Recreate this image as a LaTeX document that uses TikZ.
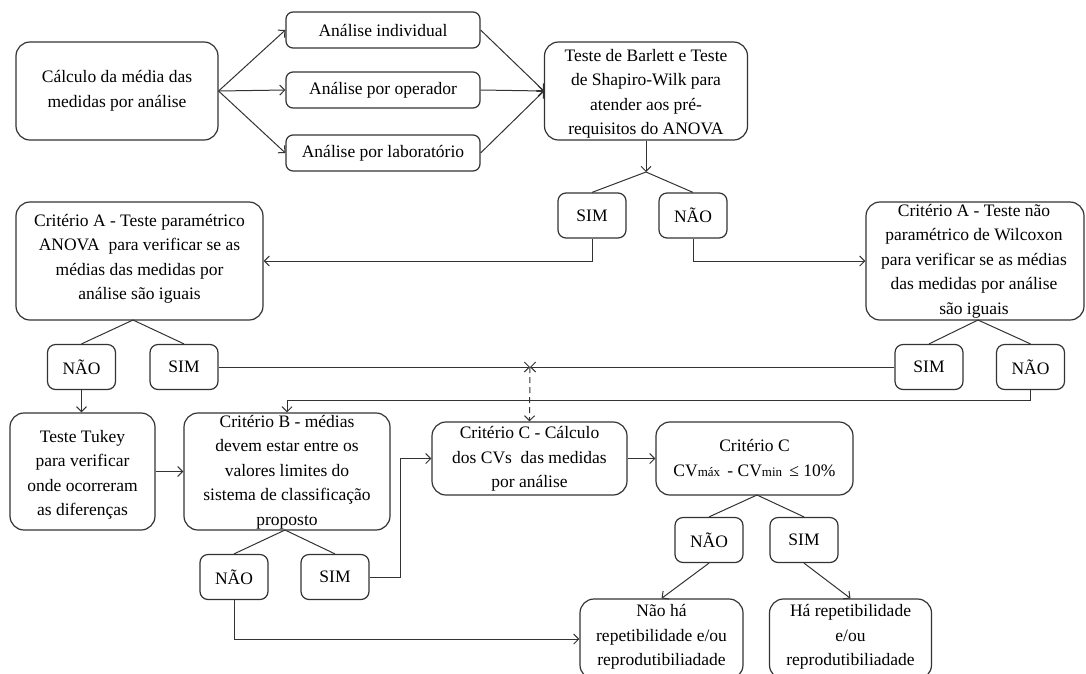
\documentclass[tikz,border=0pt]{standalone}
\usepackage{fontspec}
\setmainfont{Liberation Serif}
\usetikzlibrary{arrows.meta}
\begin{document}
\begin{tikzpicture}[x=1pt,y=-1pt,
 ln/.style={draw=black!80, line width=1pt},
 arr/.style={ln, -{Straight Barb[length=5pt,width=10pt]}},
 box/.style={draw=black!80, line width=1.2pt, rounded corners=14pt, inner sep=0pt},
 sbox/.style={draw=black!80, line width=1.2pt, rounded corners=8pt, minimum width=68pt, minimum height=45pt, inner sep=0pt, font=\fontsize{17.5}{24.5}\selectfont},
 txt/.style={align=center, inner sep=0pt, font=\fontsize{17.5}{24.5}\selectfont}]
\useasboundingbox (0,0) rectangle (1086,673);
\clip (0,0) rectangle (1086,673);

% row 1
\node[box, minimum width=202pt, minimum height=98pt] (calc) at (117,91) {};
\node[txt] (calct) at (calc) {Cálculo da média das\\medidas por análise};
\node[box, rounded corners=7pt, minimum width=194pt, minimum height=36pt] (ind) at (383,30) {};
\node[txt] (indt) at (ind) {Análise individual};
\node[box, rounded corners=7pt, minimum width=194pt, minimum height=36pt] (op) at (383,90) {};
\node[txt] (opt) at (op) {Análise por operador};
\node[box, rounded corners=7pt, minimum width=194pt, minimum height=36pt] (lab) at (383,153) {};
\node[txt] (labt) at (lab) {Análise por laboratório};
\node[box, minimum width=203pt, minimum height=98pt] (bart) at (646,91) {};
\node[txt] (bartt) at (646,94) {Teste de Barlett e Teste\\de Shapiro-Wilk para\\atender aos pré-\\requisitos do ANOVA};

\node[sbox] (sim1) at (592,215.5) {SIM};
\node[sbox] (nao1) at (693,215.5) {NÃO};

% row 2
\node[box, minimum width=247pt, minimum height=118pt] (critA) at (139.5,261) {};
\node[txt] (critAt) at (139.5,259) {Critério A - Teste paramétrico\\ANOVA \ para verificar se as\\médias das medidas por\\análise são iguais};
\node[box, minimum width=218pt, minimum height=118pt] (wil) at (975,261) {};
\node[txt] (wilt) at (974,261) {Critério A - Teste não\\paramétrico de Wilcoxon\\para verificar se as médias\\das medidas por análise\\são iguais};

\node[sbox] (naoA) at (81.5,367) {NÃO};
\node[sbox] (simA) at (184,367) {SIM};
\node[sbox] (simW) at (929,367) {SIM};
\node[sbox] (naoW) at (1030.5,367) {NÃO};

% row 3
\node[box, minimum width=145pt, minimum height=117pt] (tukey) at (82.5,471.5) {};
\node[txt] (tukeyt) at (82.5,475) {Teste Tukey\\para verificar\\onde ocorreram\\as diferenças};
\node[box, minimum width=206pt, minimum height=117pt] (critB) at (287,471.5) {};
\node[txt] (critBt) at (287,472) {Critério B - médias\\devem estar entre os\\valores limites do\\sistema de classificação\\proposto};
\node[box, minimum width=195pt, minimum height=73pt] (critC1) at (529.5,458.5) {};
\node[txt] (critC1t) at (529.5,459) {Critério C - Cálculo\\dos CVs \ das medidas\\por análise};
\node[box, minimum width=197pt, minimum height=73pt] (critC2) at (754.5,458.5) {};
\node[txt] (critC2t) at (754.5,458) {Critério C\\CV{\fontsize{13}{15}\selectfont máx} \,- CV{\fontsize{13}{15}\selectfont min} \,≤ 10\%};

\node[sbox] (naoB) at (234,577) {NÃO};
\node[sbox] (simB) at (335,577) {SIM};
\node[sbox] (naoC) at (709,540) {NÃO};
\node[sbox] (simC) at (804,540) {SIM};

\node[box, minimum width=163pt, minimum height=80pt] (naoHa) at (661.5,639) {};
\node[txt] (naoHat) at (661.5,637) {Não há\\repetibilidade e/ou\\reprodutibiliadade};
\node[box, minimum width=162pt, minimum height=80pt] (ha) at (850.5,639) {};
\node[txt] (hat) at (850.5,637) {Há repetibilidade\\e/ou\\reprodutibiliadade};

% junction coordinates
\coordinate (s1) at (646,172);
\coordinate (sA) at (133,320);
\coordinate (sW) at (978,320);
\coordinate (j) at (530,367);
\coordinate (w1) at (1030.5,400);
\coordinate (sB) at (285,530);
\coordinate (b1) at (400,577);
\coordinate (sC) at (757,495);

% connectors
\draw[arr] (calc.east) -- (ind.west);
\draw[arr] (calc.east) -- (op.west);
\draw[arr] (calc.east) -- (lab.west);
\draw[arr] (ind.east) -- (bart.west);
\draw[arr] (op.east) -- (bart.west);
\draw[arr] (lab.east) -- (bart.west);
\draw[arr] (bart.south) -- (s1);
\draw[ln] (sim1.north) -- (s1) -- (nao1.north);
\draw[arr] (sim1.south) |- (critA.east);
\draw[arr] (nao1.south) |- (wil.west);
\draw[ln] (naoA.north) -- (sA) -- (simA.north);
\draw[ln] (simW.north) -- (sW) -- (naoW.north);
\draw[arr] (simA.east) -- (j);
\draw[arr] (simW.west) -- (j);
\draw[arr, dash pattern=on 6pt off 4pt] (j) -- (critC1.north);
\draw[arr] (naoA.south) -- (naoA.south |- tukey.north);
\draw[arr] (naoW.south) -- (w1) -| (critB.north);
\draw[arr] (tukey.east) -- (critB.west);
\draw[ln] (naoB.north) -- (sB) -- (simB.north);
\draw[arr] (simB.east) -- (b1) |- (critC1.west);
\draw[arr] (naoB.south) |- (naoHa.west);
\draw[arr] (critC1.east) -- (critC2.west);
\draw[ln] (naoC.north) -- (sC) -- (simC.north);
\draw[arr] (naoC.south) -- (naoHa.north);
\draw[arr] (simC.south) -- (ha.north);
\end{tikzpicture}
\end{document}
